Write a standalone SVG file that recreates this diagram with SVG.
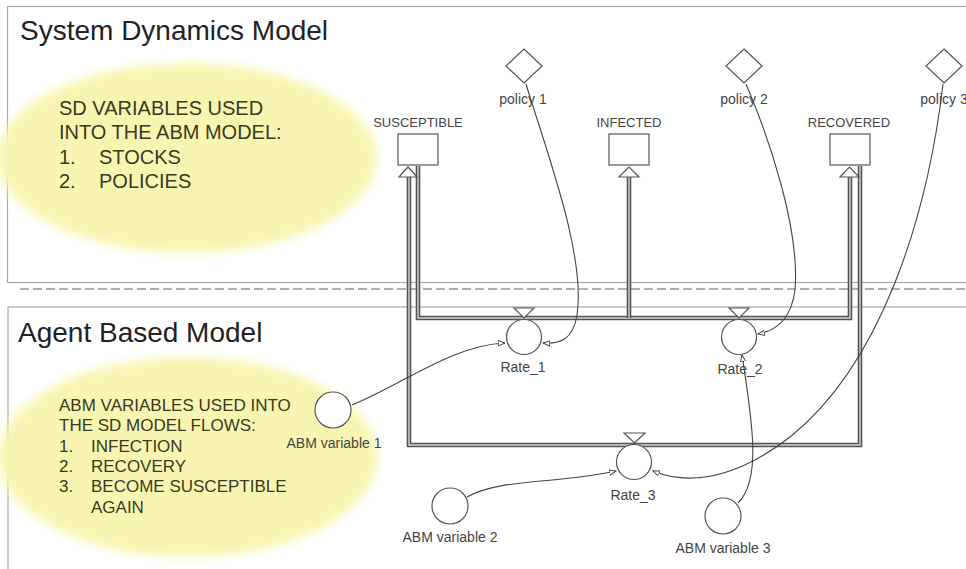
<svg xmlns="http://www.w3.org/2000/svg" width="966" height="569" viewBox="0 0 966 569">
<style>
.panel{fill:none;stroke:#a8a8a8;stroke-width:1.2}
.title{font-family:"Liberation Sans",Arial,sans-serif;font-size:28px;fill:#222}
.note{font-family:"Liberation Sans",Arial,sans-serif;fill:#3a3a22}
.lbl{font-family:"Liberation Sans",Arial,sans-serif;font-size:13px;fill:#444;text-anchor:middle}
.lbl2{font-family:"Liberation Sans",Arial,sans-serif;font-size:14px;fill:#444;text-anchor:middle}
.shape{fill:#fff;stroke:#555;stroke-width:1.2}
.pipeo{fill:none;stroke:#555;stroke-width:4.6}
.pipei{fill:none;stroke:#d4d4d4;stroke-width:1.4}
.link{fill:none;stroke:#444;stroke-width:1.1}
.blob{fill:#f8f5b2}
</style>
<defs>
<filter id="soft" x="-10%" y="-10%" width="120%" height="120%"><feGaussianBlur stdDeviation="5"/></filter>
<marker id="arr" viewBox="0 0 10 10" refX="9" refY="5" markerWidth="7.5" markerHeight="7.5" markerUnits="userSpaceOnUse" orient="auto">
<path d="M0,1.5 L9,5 L0,8.5 Z" fill="#fff" stroke="#444" stroke-width="1.3"/>
</marker>
</defs>
<rect width="966" height="569" fill="#fff"/>
<rect class="panel" x="7.5" y="6.5" width="970" height="276"/>
<line x1="20" y1="289" x2="966" y2="289" stroke="#b0b0b0" stroke-width="2" stroke-dasharray="9,4"/>
<rect class="panel" x="8" y="307" width="970" height="280"/>
<text class="title" x="20" y="40">System Dynamics Model</text>
<text class="title" x="18" y="342">Agent Based Model</text>
<g id="note-sd">
<ellipse class="blob" cx="187" cy="158" rx="190" ry="95" filter="url(#soft)"/>
<text class="note" font-size="20" x="59" y="115">SD VARIABLES USED</text>
<text class="note" font-size="20" x="59" y="139">INTO THE ABM MODEL:</text>
<text class="note" font-size="20" x="59" y="164">1.</text>
<text class="note" font-size="20" x="99" y="164">STOCKS</text>
<text class="note" font-size="20" x="59" y="188">2.</text>
<text class="note" font-size="20" x="99" y="188">POLICIES</text>
</g>
<g id="note-abm">
<ellipse class="blob" cx="188" cy="457" rx="190" ry="100" filter="url(#soft)"/>
<text class="note" font-size="17" x="59" y="411">ABM VARIABLES USED INTO</text>
<text class="note" font-size="17" x="59" y="431">THE SD MODEL FLOWS:</text>
<text class="note" font-size="17" x="59" y="452">1.</text>
<text class="note" font-size="17" x="91" y="452">INFECTION</text>
<text class="note" font-size="17" x="59" y="472">2.</text>
<text class="note" font-size="17" x="91" y="472">RECOVERY</text>
<text class="note" font-size="17" x="59" y="492">3.</text>
<text class="note" font-size="17" x="91" y="492">BECOME SUSCEPTIBLE</text>
<text class="note" font-size="17" x="91" y="513">AGAIN</text>
</g>
<g id="connectors">
<path class="pipeo" d="M860,166 V445 H409 V177"/>
<path class="pipei" d="M860,166 V445 H409 V177"/>
<path class="pipeo" d="M418,166 V318 H850 V177"/>
<path class="pipei" d="M418,166 V318 H850 V177"/>
<path class="pipeo" d="M629,318 V177"/>
<path class="pipei" d="M629,318 V177"/>
<path class="link" d="M526,84 C546,150 586,255 577,315 C573,340 560,344 543,343" marker-end="url(#arr)"/>
<path class="link" d="M746,84 C770,140 800,230 795,290 C791,320 776,331 758,334" marker-end="url(#arr)"/>
<path class="link" d="M943,84 C927,220 880,365 790,437 C750,468 700,490 653,471" marker-end="url(#arr)"/>
<path class="link" d="M352,405 C400,386 452,345 505,343" marker-end="url(#arr)"/>
<path class="link" d="M467,497 C500,478 560,484 616,471" marker-end="url(#arr)"/>
<path class="link" d="M738,503 C762,480 752,420 742,355" marker-end="url(#arr)"/>
</g>
<g id="susceptible">
<rect class="shape" x="398" y="134" width="40" height="31"/>
<polygon class="shape" points="399,177 417,177 408,167"/>
<text class="lbl" x="418" y="127">SUSCEPTIBLE</text>
</g>
<g id="infected">
<rect class="shape" x="609" y="134" width="40" height="31"/>
<polygon class="shape" points="619,177 639,177 629,167"/>
<text class="lbl" x="629" y="127">INFECTED</text>
</g>
<g id="recovered">
<rect class="shape" x="830" y="134" width="40" height="31"/>
<polygon class="shape" points="840,177 859,177 849.5,167"/>
<text class="lbl" x="849" y="127">RECOVERED</text>
</g>
<g id="policy1">
<polygon class="shape" points="524,49 542,66 524,83 506,66"/>
<text class="lbl2" x="523" y="104">policy 1</text>
</g>
<g id="policy2">
<polygon class="shape" points="744,49 762,66 744,83 726,66"/>
<text class="lbl2" x="744" y="104">policy 2</text>
</g>
<g id="policy3">
<polygon class="shape" points="944,49 962,66 944,83 926,66"/>
<text class="lbl2" x="944" y="104">policy 3</text>
</g>
<g id="rate1">
<polygon class="shape" points="514,308 534,308 524,318"/>
<circle class="shape" cx="524" cy="337" r="17.5"/>
<text class="lbl2" x="523" y="372">Rate_1</text>
</g>
<g id="rate2">
<polygon class="shape" points="729,308 749,308 739,318"/>
<circle class="shape" cx="739" cy="337" r="17.5"/>
<text class="lbl2" x="740" y="374">Rate_2</text>
</g>
<g id="rate3">
<polygon class="shape" points="624,433 645,433 634.5,443"/>
<circle class="shape" cx="634" cy="462" r="17.5"/>
<text class="lbl2" x="633" y="500">Rate_3</text>
</g>
<g id="abm1">
<circle class="shape" cx="333" cy="410" r="18"/>
<text class="lbl2" x="334" y="448">ABM variable 1</text>
</g>
<g id="abm2">
<circle class="shape" cx="450" cy="506" r="18"/>
<text class="lbl2" x="450" y="542">ABM variable 2</text>
</g>
<g id="abm3">
<circle class="shape" cx="723" cy="516" r="18"/>
<text class="lbl2" x="723" y="553">ABM variable 3</text>
</g>
</svg>
